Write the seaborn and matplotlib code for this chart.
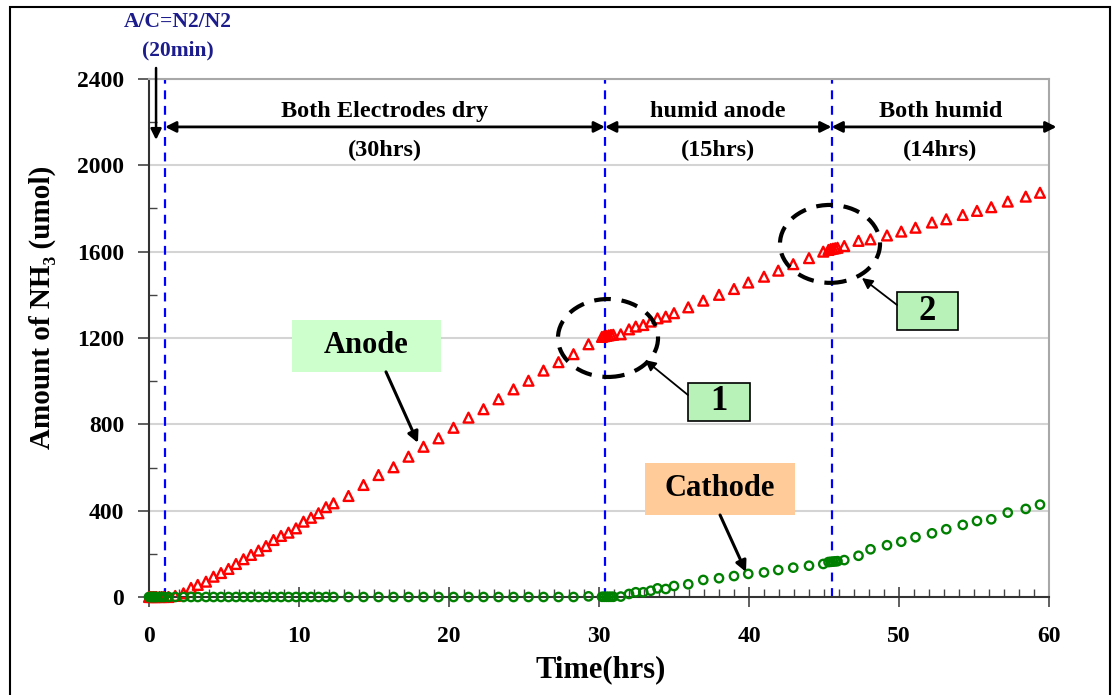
import matplotlib
matplotlib.use("Agg")
import matplotlib.pyplot as plt
import seaborn as sns
import pandas as pd
from matplotlib.patches import Ellipse, Rectangle
from matplotlib.ticker import MultipleLocator

# ---------------- data ----------------
time_hrs = [0, 0.1, 0.2, 0.3, 0.4, 0.5, 0.7, 0.85, 1.0, 1.3, 1.75, 2.3, 2.8, 3.25, 3.8,
            4.3, 4.8, 5.3, 5.8, 6.3, 6.8, 7.3, 7.8, 8.3, 8.8, 9.3, 9.8, 10.3, 10.8, 11.3,
            11.8, 12.3, 13.3, 14.3, 15.3, 16.3, 17.3, 18.3, 19.3, 20.3, 21.3, 22.3, 23.3,
            24.3, 25.3, 26.3, 27.3, 28.3, 29.3, 30.2, 30.35, 30.5, 30.65, 30.8, 30.95,
            31.45, 32.0, 32.45, 32.95, 33.45, 33.9, 34.45, 35.0, 35.95, 36.95, 38.0, 39.0,
            39.95, 41.0, 41.95, 42.95, 44.0, 44.95, 45.3, 45.45, 45.6, 45.75, 45.9, 46.35,
            47.3, 48.1, 49.2, 50.15, 51.1, 52.2, 53.15, 54.25, 55.2, 56.15, 57.25, 58.45, 59.4]

anode = [0, 0, 0, 0, 0, 0, 0, 0, 0, 0, 5, 17, 42, 56, 71,
         94, 111, 130, 153, 175, 195, 215, 236, 264, 283, 298, 318, 349, 367, 388,
         416, 434, 468, 519, 565, 601, 650, 696, 735, 784, 831, 870, 916,
         962, 1002, 1049, 1088, 1125, 1171, 1205, 1208, 1210, 1212, 1214, 1215,
         1217, 1240, 1253, 1260, 1276, 1291, 1299, 1315, 1342, 1373, 1400, 1427,
         1457, 1484, 1512, 1542, 1570, 1600, 1608, 1612, 1614, 1616, 1618, 1626,
         1650, 1657, 1675, 1693, 1711, 1735, 1750, 1770, 1789, 1806, 1832, 1855, 1873]

cathode = [0, 0, 0, 0, 0, 0, 0, 0, 0, 0, 0, 0, 0, 0, 0,
           0, 0, 0, 0, 0, 0, 0, 0, 0, 0, 0, 0, 0, 0, 0,
           0, 0, 0, 0, 0, 0, 0, 0, 0, 0, 0, 0, 0,
           0, 0, 0, 0, 0, 3, 1, 1, 1, 1, 1, 1,
           2, 14, 22, 22, 29, 40, 37, 51, 59, 79, 87, 97,
           107, 114, 125, 136, 145, 153, 162, 163, 164, 165, 166, 171,
           191, 221, 240, 256, 277, 295, 314, 334, 352, 360, 391, 408, 428]

phase_bounds = [1.07, 30.4, 45.5, 60.5]
phase_names = ["Both Electrodes dry", "humid anode", "Both humid"]
phase_durations = ["(30hrs)", "(15hrs)", "(14hrs)"]
x_ticks = [0, 10, 20, 30, 40, 50, 60]
y_ticks = [0, 400, 800, 1200, 1600, 2000, 2400]

df = pd.DataFrame({"t": time_hrs, "anode": anode, "cathode": cathode})

# ---------------- style ----------------
sns.set_style("white")
plt.rcParams["font.family"] = ["Liberation Serif", "DejaVu Serif"]
plt.rcParams["font.weight"] = "bold"
plt.rcParams["text.color"] = "black"
plt.rcParams["axes.labelcolor"] = "black"
plt.rcParams["xtick.color"] = "black"
plt.rcParams["ytick.color"] = "black"

W, H = 1117, 695
fig = plt.figure(figsize=(W / 100, H / 100), dpi=100)
ax = fig.add_axes([149 / W, 1 - 597 / H, 900 / W, 518 / H])

# horizontal grid
for yv in y_ticks[1:]:
    ax.axhline(yv, color="#d4d4d4", lw=1.5, zorder=0)

# data
sns.scatterplot(data=df, x="t", y="anode", ax=ax, marker="^", s=50,
                color="red", facecolor="none", edgecolor="red", linewidth=1.7,
                clip_on=False, zorder=3)
sns.scatterplot(data=df, x="t", y="cathode", ax=ax, marker="o", s=36,
                color="#008000", facecolor="none", edgecolor="#008000", linewidth=1.7,
                clip_on=False, zorder=4)

ax.set_xlim(0, 60)
ax.set_ylim(0, 2400)
ax.set_xticks(x_ticks)
ax.set_yticks(y_ticks)
ax.xaxis.set_minor_locator(MultipleLocator(1))
ax.yaxis.set_minor_locator(MultipleLocator(200))
ax.tick_params(axis="x", which="major", direction="inout", length=14, width=1.2,
               color="#444444", labelcolor="black", labelsize=17, pad=14, bottom=True)
ax.tick_params(axis="x", which="minor", direction="in", length=6, width=1.0,
               color="#444444", bottom=True)
ax.tick_params(axis="y", which="major", direction="out", length=8, width=1.2,
               color="#444444", labelcolor="black", labelsize=17, pad=10, left=True)
ax.tick_params(axis="y", which="minor", direction="in", length=6, width=1.0,
               color="#444444", left=True)
for lab in ax.get_xticklabels() + ax.get_yticklabels():
    lab.set_fontweight("bold")

for side in ["top", "right"]:
    ax.spines[side].set_color("#a8a8a8")
    ax.spines[side].set_linewidth(1.5)
for side in ["left", "bottom"]:
    ax.spines[side].set_color("#333333")
    ax.spines[side].set_linewidth(1.5)

ax.set_xlabel("Time(hrs)", fontsize=22, fontweight="bold")
ax.set_ylabel("Amount of NH\u2083 (umol)", fontsize=21, fontweight="bold")
ax.xaxis.set_label_coords((601 - 149) / 900, -(655 - 597) / 518)
ax.yaxis.set_label_coords((56 - 149) / 900, (597 - 307) / 518)

# phase separators
for xb in phase_bounds[:3]:
    ax.axvline(xb, color="#0000ff", lw=1.6, ls=(0, (4, 3)), zorder=2)

# double arrows and phase texts
for i in range(3):
    ax.annotate("", xy=(phase_bounds[i + 1], 2178), xytext=(phase_bounds[i], 2178),
                arrowprops=dict(arrowstyle="<|-|>", color="black", lw=2,
                                mutation_scale=16, shrinkA=0, shrinkB=0),
                annotation_clip=False)
    xc = (phase_bounds[i] + min(phase_bounds[i + 1], 60)) / 2
    ax.text(xc, 2250, phase_names[i], ha="center", va="center", fontsize=17.5,
            fontweight="bold")
    ax.text(xc, 2070, phase_durations[i], ha="center", va="center", fontsize=17.5,
            fontweight="bold")

# top annotation
fig.text(178 / W, 1 - 22 / H, "A/C=N2/N2", ha="center", va="center", fontsize=15.5,
         fontweight="bold", color="#1c1c8c")
fig.text(178 / W, 1 - 50 / H, "(20min)", ha="center", va="center", fontsize=15.5,
         fontweight="bold", color="#1c1c8c")
ax.annotate("", xy=(0.47, 2118), xytext=(0.47, 2451),
            arrowprops=dict(arrowstyle="-|>", color="black", lw=1.8,
                            mutation_scale=16, shrinkA=0, shrinkB=0),
            annotation_clip=False)

# dashed ellipses
for cx, cy in [(30.6, 1200), (45.4, 1636)]:
    ax.add_patch(Ellipse((cx, cy), 6.67, 361, fill=False, ec="black", lw=3,
                         ls=(0, (4, 2.6)), zorder=5))

# label boxes
def label_box(x0, x1, y0, y1, text, fc, fs, edge=None):
    ax.add_patch(Rectangle((x0, y0), x1 - x0, y1 - y0, fc=fc,
                           ec=edge if edge else "none", lw=1.2 if edge else 0,
                           zorder=6, clip_on=False))
    ax.text((x0 + x1) / 2, (y0 + y1) / 2, text, ha="center", va="center",
            fontsize=fs, fontweight="bold", zorder=7)

label_box(9.53, 19.47, 1043, 1284, "Anode", "#ccffcc", 22)
label_box(33.07, 43.07, 380, 621, "Cathode", "#ffcc99", 22)
label_box(35.93, 40.07, 816, 992, "1", "#b9f2b9", 25, edge="black")
label_box(49.87, 53.93, 1237, 1413, "2", "#b9f2b9", 25, edge="black")

# pointer arrows
for (x0, y0, x1, y1, lw) in [(15.8, 1043, 17.93, 714, 2.2),
                             (38.07, 380, 39.8, 116, 2.2),
                             (35.93, 936, 33.07, 1098, 1.3),
                             (49.87, 1353, 47.53, 1478, 1.3)]:
    ax.annotate("", xy=(x1, y1), xytext=(x0, y0),
                arrowprops=dict(arrowstyle="-|>", color="black", lw=lw,
                                mutation_scale=16, shrinkA=0, shrinkB=0),
                zorder=8)

# outer frame
fig.patches.append(Rectangle((10 / W, -0.01), 1100 / W, 1.01 - 7 / H, fill=False,
                             ec="black", lw=1.5, transform=fig.transFigure,
                             figure=fig))

fig.savefig("out.png", dpi=100, facecolor="white")
